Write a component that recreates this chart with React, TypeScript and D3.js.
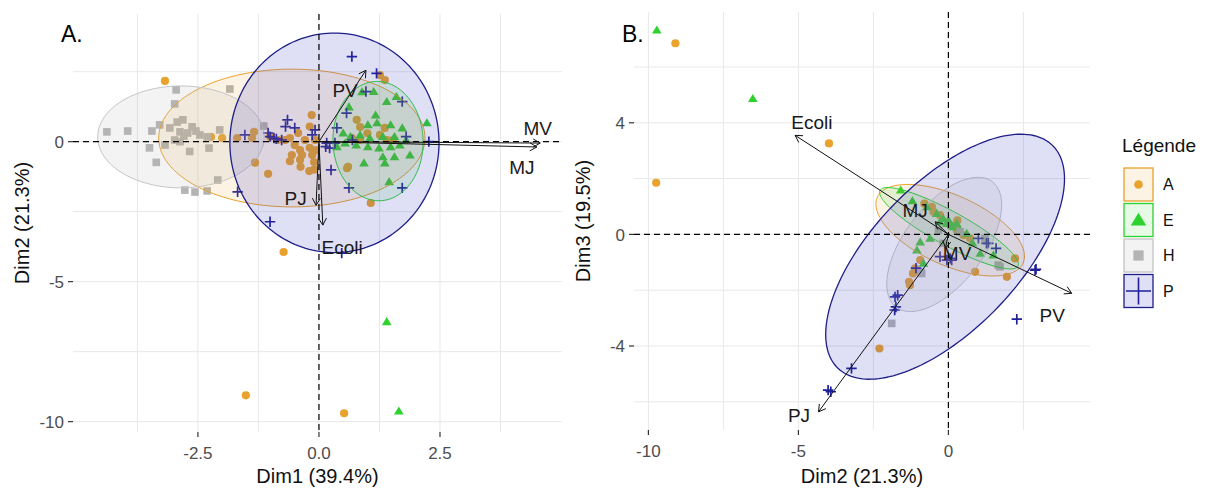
import * as d3 from "d3";

type Pt = [number, number];

// ---- Panel A : Dim1 (x) vs Dim2 (y) ----
const dim12_A: Pt[] = [
  [-3.18, 2.17], [-0.73, -3.94], [-1.51, -9.06], [0.52, -9.7], [-1.32, -0.75], [-1.05, -1.15],
  [1.07, -2.19], [0.6, -0.9], [1.26, 2.38], [1.36, 2.2], [0.78, 0.78], [0.85, 0.52], [-0.15, 0.95],
  [-0.19, 0.54], [-2.23, 0.17], [-2.0, 0.13], [-1.69, 0.13], [-1.38, 0.13], [-1.34, 0.35],
  [-1.01, 0.17], [-0.85, 0.06], [-0.7, 0.06], [-0.6, 0.13], [-0.5, -0.12], [-0.39, -0.3],
  [-0.39, -0.65], [-0.35, -0.48], [-0.19, -0.22], [-0.14, -0.48], [-0.1, -0.73], [-0.06, -0.3],
  [-0.43, 0.31], [-0.29, 0.06], [-0.56, -0.48], [-0.08, 0.06], [-0.1, -1.0], [-0.38, -0.9],
  [-0.2, -1.05], [-0.6, -0.7], [1.26, 0.24], [1.36, 0.49], [1.4, 0.06], [1.53, 0.06], [0.68, 0.13],
  [0.85, 0.06], [0.58, -0.95], [1.0, 0.3],
];
const dim12_E: Pt[] = [
  [0.62, 1.24], [0.89, 1.78], [1.13, 1.79], [1.4, 1.43], [1.6, 1.61], [1.17, 0.95], [1.2, 0.67],
  [1.48, 0.6], [1.72, 0.49], [1.01, 0.6], [2.23, 0.67], [0.85, 0.24], [1.05, 0.13], [1.32, 0.18],
  [1.56, 0.18], [1.8, 0.06], [0.54, -0.05], [0.77, -0.12], [1.01, -0.18], [1.24, -0.23],
  [1.48, -0.18], [0.93, -0.76], [1.32, -0.54], [1.36, -0.76], [1.56, -0.54], [1.88, -0.48],
  [1.45, -1.43], [0.37, -0.18], [0.5, 0.31], [0.65, 0.18], [1.67, -0.12], [1.4, -6.43], [1.65, -9.62],
];
const dim12_H: Pt[] = [
  [-4.38, 0.35], [-3.95, 0.38], [-3.45, 0.38], [-3.5, -0.22], [-3.36, -0.74], [-2.95, 1.85],
  [-2.98, 1.35], [-2.93, 0.7], [-2.87, 0.35], [-2.79, 0.2], [-2.71, 0.31], [-2.62, 0.53],
  [-2.54, 0.38], [-2.46, 0.24], [-2.31, 0.17], [-2.27, -0.23], [-2.67, -0.35], [-1.84, 1.88],
  [-2.09, -1.37], [-2.31, -1.76], [-2.56, -1.8], [-2.77, -1.73], [-1.14, 0.56], [-3.08, 0.49],
  [-2.98, 0.06], [-3.18, -0.12], [-2.05, 0.42], [-3.29, 0.6], [-2.81, 0.78], [-2.87, 0.0],
];
const dim12_P: Pt[] = [
  [0.68, 3.04], [1.19, 2.44], [0.97, 1.79], [1.72, 1.43], [0.57, 1.02], [0.37, 0.49], [-0.69, 0.54],
  [-0.5, 0.49], [-1.53, 0.24], [-1.01, 0.18], [-0.93, 0.13], [-0.77, 0.06], [-1.05, 0.31],
  [-0.14, 0.24], [0.14, -0.18], [0.22, -0.23], [0.33, -0.05], [0.25, -1.01], [0.62, -1.65],
  [1.72, -1.65], [-1.68, -1.79], [-1.01, -2.86], [0.47, -3.98], [1.8, 0.18], [2.27, 0.0],
  [0.69, 0.06], [-0.65, 0.78], [-0.08, 0.42], [0.16, -0.05], [-0.88, 0.1],
];

// ellipses: [cx, cy, ux, uy, vx, vy] (centre + two semi-axis vectors)
const ell12_A = [-0.56, 0.13, 2.75, 0, 0, 2.46];
const ell12_E = [1.22, 0.02, 0.93, 0.05, -0.04, 2.13];
const ell12_H = [-2.85, 0.17, 1.72, 0, 0, 1.82];
const ell12_P = [0.32, -0.04, 2.16, 0, 0, 3.92];

const vars12 = ["MV", "MJ", "PV", "PJ", "Ecoli"];
const arrows12: Pt[] = [[4.57, -0.05], [4.5, -0.19], [0.97, 2.55], [-0.06, -2.27], [0.08, -2.98]];
const labels12: Pt[] = [[4.52, 0.49], [4.19, -0.9], [0.54, 1.85], [-0.48, -2.01], [0.48, -3.76]];

// ---- Panel B : Dim2 (x) vs Dim3 (y) ----
const dim23_A: Pt[] = [
  [-9.1, 6.85], [-9.74, 1.85], [-3.98, 3.26], [-0.5, 0.81], [0.28, 0.15], [0.5, -0.03],
  [0.72, -0.14], [2.22, -0.86], [1.95, -1.52], [0.89, -1.34], [-1.11, -1.22], [-1.28, -1.82],
  [-0.94, -0.92], [-2.3, -4.09], [-1.31, -1.7], [-1.18, -1.4], [-0.55, 0.99], [-0.28, 0.69],
  [0.1, 0.3], [-0.8, 1.1], [0.3, 0.5],
];
const dim23_E: Pt[] = [
  [-9.72, 7.32], [-6.52, 4.87], [-1.59, 1.59], [-0.72, 0.99], [-0.39, 0.75], [-0.17, 0.57],
  [-0.05, 0.39], [0.17, 0.27], [0.39, 0.15], [0.61, 0.04], [-0.28, 0.45], [-0.61, -0.14],
  [-0.94, -0.27], [-1.05, -0.56], [1.06, -0.68], [1.5, -0.74], [-0.83, -1.04], [0.0, 0.51],
  [0.11, 0.33], [0.28, 0.39], [-1.2, 1.2], [0.8, -0.3],
];
const dim23_H: Pt[] = [
  [-1.89, -3.19], [-0.89, -1.4], [1.72, -1.16], [1.22, -0.14], [-0.17, -0.32], [0.39, 0.09],
  [-0.33, 0.15], [1.66, -1.1], [-0.92, -1.34],
];
const dim23_P: Pt[] = [
  [2.92, -1.25], [2.28, -3.04], [-1.79, -2.71], [-1.69, -2.18], [-3.23, -4.8], [-4.01, -5.58],
  [-3.92, -5.64], [-0.28, -0.8], [0.06, -0.86], [1.27, -0.32], [1.59, -0.5], [1.0, -0.14],
  [1.33, -0.32], [2.89, -1.28], [-0.05, -0.92], [0.11, -0.92], [-1.78, -2.24], [-1.08, -1.21],
  [-1.75, -2.6],
];

const ell23_A = [0.06, 0.15, 2.43, -1.18, -0.48, -1.14];
const ell23_E = [0.02, 0.22, 2.3, -1.36, -0.27, -0.53];
const ell23_H = [-0.14, -0.36, 1.6, 2.25, 1.05, -0.85];
const ell23_P = [-0.11, -0.8, 3.57, 4.0, 1.76, -1.81];

const vars23 = ["Ecoli", "MJ", "MV", "PV", "PJ"];
const arrows23: Pt[] = [[-5.11, 3.55], [-0.44, 0.45], [-0.1, -0.49], [4.11, -2.11], [-4.33, -6.36]];
const labels23: Pt[] = [[-4.55, 4.02], [-1.11, 0.87], [0.29, -0.67], [3.46, -2.89], [-4.98, -6.48]];

// ---- axes ----
const xTicks12 = [-2.5, 0, 2.5];
const yTicks12 = [0, -5, -10];
const xGrid12 = [-3.75, -2.5, -1.25, 0, 1.25, 2.5, 3.75];
const yGrid12 = [2.5, 0, -2.5, -5, -7.5, -10];
const xTicks23 = [-10, -5, 0];
const yTicks23 = [4, 0, -4];
const xGrid23 = [-10, -7.5, -5, -2.5, 0, 2.5];
const yGrid23 = [6, 4, 2, 0, -2, -4, -6];

const groups = ["A", "E", "H", "P"];

const FONT = "'Liberation Sans', Arial, sans-serif";
const col: Record<string, string> = { A: "#E9A22B", E: "#2ED22E", H: "#B4B4B4", P: "#20209A" };
const ellStroke: Record<string, string> = { A: "#E9A22B", E: "#2ED22E", H: "#C4C4C4", P: "#1E1E88" };
const ellFill: Record<string, [string, number]> = {
  A: ["#E9A22B", 0.13],
  E: ["#2ED22E", 0.12],
  H: ["#B4B4B4", 0.16],
  P: ["#3535C8", 0.16],
};

function Marker({ g, x, y, s = 1 }: { g: string; x: number; y: number; s?: number }) {
  if (g === "A") return <circle cx={x} cy={y} r={4.1 * s} fill={col.A} />;
  if (g === "E") {
    const h = 4.6 * s;
    return (
      <path
        d={`M${x},${y - h} L${x + h * 1.05},${y + h * 0.75} L${x - h * 1.05},${y + h * 0.75} Z`}
        fill={col.E}
      />
    );
  }
  if (g === "H") {
    const h = 3.8 * s;
    return <rect x={x - h} y={y - h} width={2 * h} height={2 * h} fill={col.H} />;
  }
  const h = 5.2 * s;
  return (
    <path
      d={`M${x - h},${y} H${x + h} M${x},${y - h} V${y + h}`}
      stroke={col.P}
      strokeWidth={1.7}
      fill="none"
    />
  );
}

type PanelProps = {
  frame: { left: number; right: number; top: number; bottom: number };
  xDomain: [number, number];
  yDomain: [number, number];
  xTicks: number[];
  yTicks: number[];
  xGrid: number[];
  yGrid: number[];
  xFmt: (v: number) => string;
  points: Record<string, Pt[]>;
  ellipses: Record<string, number[]>;
  vars: string[];
  arrows: Pt[];
  labels: Pt[];
  xTitle: string;
  yTitle: string;
  tag: string;
};

function Panel(p: PanelProps) {
  const { frame } = p;
  const x = d3.scaleLinear().domain(p.xDomain).range([frame.left, frame.right]);
  const y = d3.scaleLinear().domain(p.yDomain).range([frame.bottom, frame.top]);
  const ellLine = d3
    .line<Pt>()
    .x((d) => x(d[0]))
    .y((d) => y(d[1]))
    .curve(d3.curveLinearClosed);
  const ellPts = (e: number[]): Pt[] =>
    d3.range(0, 2 * Math.PI, Math.PI / 90).map((t) => [
      e[0] + e[2] * Math.cos(t) + e[4] * Math.sin(t),
      e[1] + e[3] * Math.cos(t) + e[5] * Math.sin(t),
    ]);
  const x0 = x(0);
  const y0 = y(0);

  return (
    <g fontFamily={FONT}>
      {p.xGrid.map((v) => (
        <line key={"gx" + v} x1={x(v)} x2={x(v)} y1={frame.top} y2={frame.bottom} stroke="#E8E8E8" strokeWidth={1} />
      ))}
      {p.yGrid.map((v) => (
        <line key={"gy" + v} y1={y(v)} y2={y(v)} x1={frame.left} x2={frame.right} stroke="#E8E8E8" strokeWidth={1} />
      ))}
      {/* ticks */}
      {p.xTicks.map((v) => (
        <g key={"tx" + v}>
          <line x1={x(v)} x2={x(v)} y1={frame.bottom} y2={frame.bottom + 5} stroke="#333" strokeWidth={1.2} />
          <text x={x(v)} y={frame.bottom + 27} textAnchor="middle" fontSize={17} fill="#4D4D4D">
            {p.xFmt(v)}
          </text>
        </g>
      ))}
      {p.yTicks.map((v) => (
        <g key={"ty" + v}>
          <line x1={frame.left - 5} x2={frame.left} y1={y(v)} y2={y(v)} stroke="#333" strokeWidth={1.2} />
          <text x={frame.left - 9} y={y(v)} dy="0.36em" textAnchor="end" fontSize={17} fill="#4D4D4D">
            {v}
          </text>
        </g>
      ))}
      {/* points */}
      {groups.map((g) =>
        p.points[g].map((d, i) => <Marker key={g + i} g={g} x={x(d[0])} y={y(d[1])} />)
      )}
      {/* ellipses */}
      {groups.map((g) => (
        <path
          key={"e" + g}
          d={ellLine(ellPts(p.ellipses[g])) || ""}
          fill={ellFill[g][0]}
          fillOpacity={ellFill[g][1]}
          stroke={ellStroke[g]}
          strokeWidth={g === "P" ? 1.3 : 1}
        />
      ))}
      {/* zero lines */}
      <line x1={frame.left} x2={frame.right} y1={y0} y2={y0} stroke="#000" strokeWidth={1.2} strokeDasharray="6,4" />
      <line x1={x0} x2={x0} y1={frame.top} y2={frame.bottom} stroke="#000" strokeWidth={1.2} strokeDasharray="6,4" />
      {/* variable arrows */}
      {p.vars.map((name, i) => {
        const x1 = x(p.arrows[i][0]);
        const y1 = y(p.arrows[i][1]);
        const ang = Math.atan2(y1 - y0, x1 - x0);
        const L = 8;
        const a = Math.PI / 6;
        const head = `M${x1 - L * Math.cos(ang - a)},${y1 - L * Math.sin(ang - a)} L${x1},${y1} L${
          x1 - L * Math.cos(ang + a)
        },${y1 - L * Math.sin(ang + a)}`;
        return (
          <g key={"v" + name} stroke="#111" fill="none" strokeWidth={1}>
            <line x1={x0} y1={y0} x2={x1} y2={y1} />
            <path d={head} />
          </g>
        );
      })}
      {p.vars.map((name, i) => (
        <text
          key={"l" + name}
          x={x(p.labels[i][0])}
          y={y(p.labels[i][1])}
          dy="0.36em"
          textAnchor="middle"
          fontSize={19}
          fill="#1a1a1a"
        >
          {name}
        </text>
      ))}
      {/* titles */}
      <text x={(frame.left + frame.right) / 2} y={483} textAnchor="middle" fontSize={20} fill="#111">
        {p.xTitle}
      </text>
      <text
        transform={`translate(${frame.left - 44},${(frame.top + frame.bottom) / 2}) rotate(-90)`}
        textAnchor="middle"
        fontSize={20}
        fill="#111"
      >
        {p.yTitle}
      </text>
      <text x={frame.left - 12} y={42} fontSize={23} fill="#000">
        {p.tag}
      </text>
    </g>
  );
}

function Legend() {
  const left = 1124;
  const top = 168;
  const step = 35.5;
  return (
    <g fontFamily={FONT}>
      <text x={1122} y={152} fontSize={19} fill="#111">
        Légende
      </text>
      {groups.map((g, i) => {
        const yy = top + i * step;
        return (
          <g key={"k" + g}>
            <rect x={left} y={yy} width={29} height={33} fill="#fff" />
            <rect
              x={left}
              y={yy}
              width={29}
              height={33}
              fill={ellFill[g][0]}
              fillOpacity={ellFill[g][1]}
              stroke={ellStroke[g]}
              strokeWidth={1.3}
            />
            {g === "P" ? (
              <path
                d={`M${left + 2},${yy + 16.5} H${left + 27} M${left + 14.5},${yy + 3} V${yy + 30}`}
                stroke={col.P}
                strokeWidth={1.6}
              />
            ) : (
              <Marker g={g} x={left + 14.5} y={yy + 16.5} s={g === "E" ? 1.6 : g === "H" ? 1.35 : 1.05} />
            )}
            <text x={left + 39} y={yy + 16.5} dy="0.36em" fontSize={16} fill="#111">
              {g}
            </text>
          </g>
        );
      })}
    </g>
  );
}

export default function App() {
  return (
    <svg
      width={1206}
      height={492}
      style={{ position: "absolute", left: 0, top: 0, background: "#fff", display: "block" }}
    >
      <rect width={1206} height={492} fill="#fff" />
      <Panel
        frame={{ left: 73, right: 562, top: 14, bottom: 432 }}
        xDomain={[-5.08, 5.02]}
        yDomain={[-10.37, 4.56]}
        xTicks={xTicks12}
        yTicks={yTicks12}
        xGrid={xGrid12}
        yGrid={yGrid12}
        xFmt={(v) => v.toFixed(1)}
        points={{ A: dim12_A, E: dim12_E, H: dim12_H, P: dim12_P }}
        ellipses={{ A: ell12_A, E: ell12_E, H: ell12_H, P: ell12_P }}
        vars={vars12}
        arrows={arrows12}
        labels={labels12}
        xTitle="Dim1 (39.4%)"
        yTitle="Dim2 (21.3%)"
        tag="A."
      />
      <Panel
        frame={{ left: 634, right: 1090, top: 12, bottom: 430 }}
        xDomain={[-10.48, 4.72]}
        yDomain={[-7.01, 7.97]}
        xTicks={xTicks23}
        yTicks={yTicks23}
        xGrid={xGrid23}
        yGrid={yGrid23}
        xFmt={(v) => String(v)}
        points={{ A: dim23_A, E: dim23_E, H: dim23_H, P: dim23_P }}
        ellipses={{ A: ell23_A, E: ell23_E, H: ell23_H, P: ell23_P }}
        vars={vars23}
        arrows={arrows23}
        labels={labels23}
        xTitle="Dim2 (21.3%)"
        yTitle="Dim3 (19.5%)"
        tag="B."
      />
      <Legend />
    </svg>
  );
}
